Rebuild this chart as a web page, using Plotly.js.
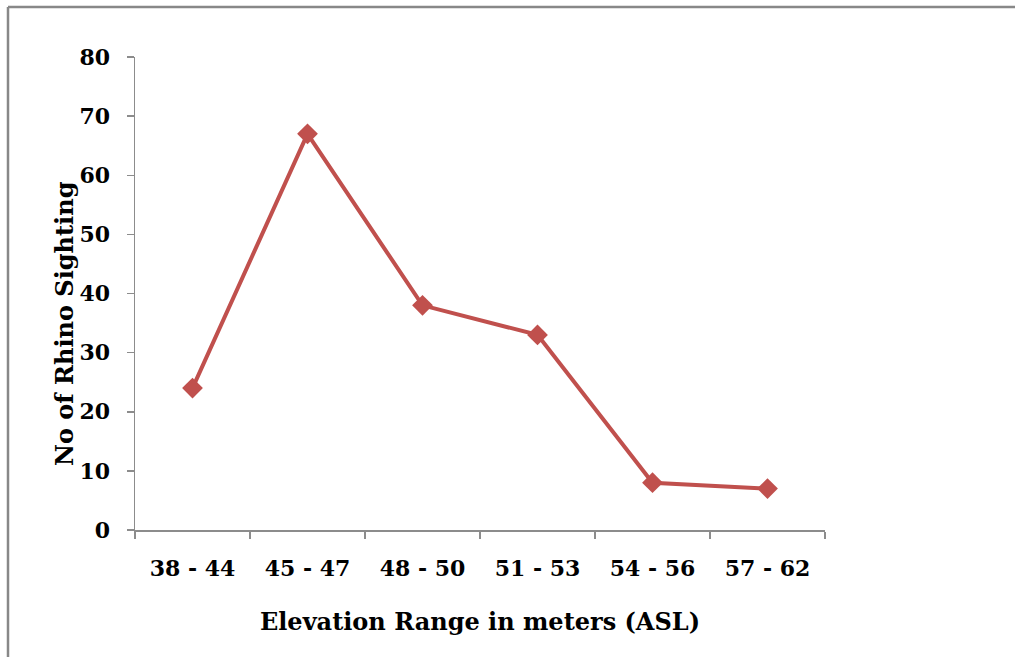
<!DOCTYPE html>
<html>
<head>
<meta charset="utf-8">
<script src="https://cdn.plot.ly/plotly-3.0.1.min.js"></script>
<style>
html,body{margin:0;padding:0;background:#fff;}
#chart{width:1015px;height:657px;}
</style>
</head>
<body>
<div id="chart"></div>
<script>
var categories = ["38 - 44", "45 - 47", "48 - 50", "51 - 53", "54 - 56", "57 - 62"];
var sightings = [24, 67, 38, 33, 8, 7];
var yTicks = [0, 10, 20, 30, 40, 50, 60, 70, 80];
var xTitle = "Elevation Range in meters (ASL)";
var yTitle = "No of Rhino Sighting";

var W = 1015, H = 657;
var M = {l: 135, r: 190, t: 57, b: 127};
var pw = W - M.l - M.r, ph = H - M.t - M.b;
function px(x){ return (x - M.l) / pw; }
function py(y){ return (H - M.b - y) / ph; }

var font = "DejaVu Serif";
var trace = {
  x: categories,
  y: sightings,
  type: "scatter",
  mode: "lines+markers",
  line: {color: "#c0504d", width: 4},
  marker: {symbol: "diamond", size: 16, color: "#c0504d"},
  cliponaxis: false
};

var layout = {
  width: W, height: H,
  margin: M,
  paper_bgcolor: "#ffffff",
  plot_bgcolor: "#ffffff",
  showlegend: false,
  font: {family: font, color: "#000"},
  xaxis: {
    type: "category",
    range: [-0.5, categories.length - 0.5],
    showgrid: false,
    zeroline: false,
    showline: true,
    linecolor: "#8c8c8c",
    linewidth: 1.5,
    ticks: "outside",
    tickson: "boundaries",
    ticklen: 7,
    tickcolor: "#8c8c8c",
    tickwidth: 1.5,
    ticklabelstandoff: 18,
    tickfont: {family: font, size: 22, weight: "bold", color: "#000"},
    title: {text: "<b>" + xTitle + "</b>", font: {family: font, size: 24, color: "#000"}, standoff: 33}
  },
  yaxis: {
    range: [0, 80],
    tickvals: yTicks,
    showgrid: false,
    zeroline: false,
    showline: true,
    linecolor: "#8c8c8c",
    linewidth: 1.5,
    ticks: "outside",
    ticklen: 7,
    tickcolor: "#8c8c8c",
    tickwidth: 1.5,
    ticklabelstandoff: 12,
    tickfont: {family: font, size: 22, weight: "bold", color: "#000"}
  },
  annotations: [
    {text: "<b>" + yTitle + "</b>", xref: "paper", yref: "paper", x: px(64), y: py(324),
     xanchor: "center", yanchor: "middle", textangle: -90, showarrow: false,
     font: {family: font, size: 24, color: "#000"}}
  ],
  shapes: [
    {type: "line", xref: "paper", yref: "paper", x0: px(8), x1: px(1015), y0: py(7), y1: py(7), line: {color: "#888", width: 2.5}},
    {type: "line", xref: "paper", yref: "paper", x0: px(8), x1: px(8), y0: py(7), y1: py(657), line: {color: "#888", width: 2.5}}
  ]
};

Plotly.newPlot("chart", [trace], layout, {displayModeBar: false, staticPlot: true});
</script>
</body>
</html>
